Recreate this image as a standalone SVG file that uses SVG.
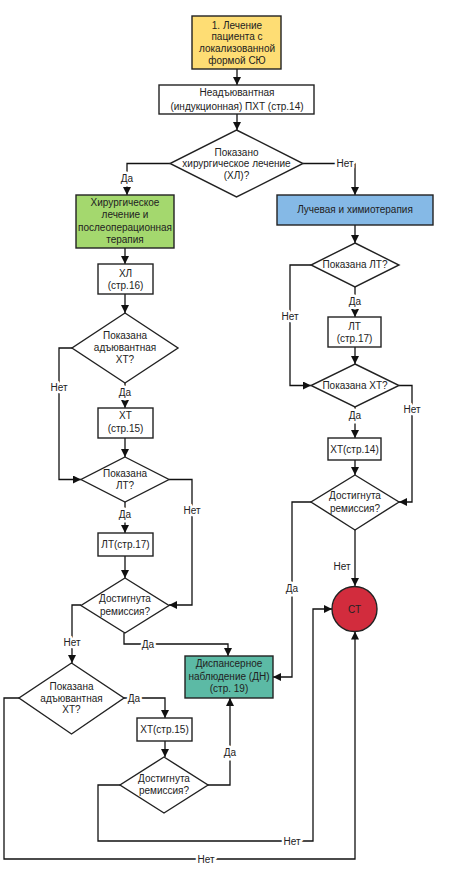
<svg xmlns="http://www.w3.org/2000/svg" width="453" height="880" viewBox="0 0 453 880">
<style>
  text { font-family: "Liberation Sans", Arial, sans-serif; font-size: 10px; fill: #222; text-anchor: middle; }
  .shape { stroke: #222; stroke-width: 1.4; }
  .w { fill: #ffffff; }
  .conn path { fill: none; stroke: #111; stroke-width: 1.3; }
  .lbl { paint-order: stroke; stroke: #ffffff; stroke-width: 5px; stroke-linejoin: round; }
</style>
<defs>
  <marker id="arr" viewBox="0 0 10 10" refX="10" refY="5" markerWidth="8" markerHeight="8" markerUnits="userSpaceOnUse" orient="auto">
    <path d="M0,0 L10,5 L0,10 Z" fill="#111"/>
  </marker>
</defs>
<rect width="453" height="880" fill="#ffffff"/>

<g class="conn">
  <path d="M237,69 V85" marker-end="url(#arr)"/>
  <path d="M237,114 V130" marker-end="url(#arr)"/>
  <path d="M170,163.5 H127 V195" marker-end="url(#arr)"/>
  <path d="M303,163.5 H355 V195" marker-end="url(#arr)"/>
  <path d="M125,248 V264" marker-end="url(#arr)"/>
  <path d="M125,294 V313" marker-end="url(#arr)"/>
  <path d="M125,383 V408" marker-end="url(#arr)"/>
  <path d="M72,348 H59 V479.5 H81" marker-end="url(#arr)"/>
  <path d="M125,438 V457" marker-end="url(#arr)"/>
  <path d="M169,479.5 H192 V605 H169" marker-end="url(#arr)"/>
  <path d="M125,502 V533" marker-end="url(#arr)"/>
  <path d="M125,556 V578" marker-end="url(#arr)"/>
  <path d="M124,633 V644 H228 V656" marker-end="url(#arr)"/>
  <path d="M81,605 H72 V663" marker-end="url(#arr)"/>
  <path d="M124,698 H165 V718" marker-end="url(#arr)"/>
  <path d="M165,741 V757" marker-end="url(#arr)"/>
  <path d="M208,785 H230 V698" marker-end="url(#arr)"/>
  <path d="M120,785 H98 V841 H313 V609 H332" marker-end="url(#arr)"/>
  <path d="M19,698 H4 V859 H355 V631.5" marker-end="url(#arr)"/>
  <path d="M355,225 V243" marker-end="url(#arr)"/>
  <path d="M355,287 V317" marker-end="url(#arr)"/>
  <path d="M355,347 V364" marker-end="url(#arr)"/>
  <path d="M311,265 H290 V385.5 H311" marker-end="url(#arr)"/>
  <path d="M355,407 V438" marker-end="url(#arr)"/>
  <path d="M355,460 V475" marker-end="url(#arr)"/>
  <path d="M399,385.5 H412 V502 H399" marker-end="url(#arr)"/>
  <path d="M311,502 H292 V677 H273" marker-end="url(#arr)"/>
  <path d="M355,530 V586" marker-end="url(#arr)"/>
  <g id="labels">
    <text class="lbl" x="127" y="181.5">Да</text>
    <text class="lbl" x="345" y="167">Нет</text>
    <text class="lbl" x="59" y="390.5">Нет</text>
    <text class="lbl" x="125" y="395.5">Да</text>
    <text class="lbl" x="192" y="513.5">Нет</text>
    <text class="lbl" x="125" y="517.5">Да</text>
    <text class="lbl" x="148" y="647.5">Да</text>
    <text class="lbl" x="72" y="645.5">Нет</text>
    <text class="lbl" x="134" y="701.5">Да</text>
    <text class="lbl" x="230" y="755.5">Да</text>
    <text class="lbl" x="292" y="844.5">Нет</text>
    <text class="lbl" x="206" y="862.5">Нет</text>
    <text class="lbl" x="355" y="304.5">Да</text>
    <text class="lbl" x="290" y="319.5">Нет</text>
    <text class="lbl" x="412" y="412.5">Нет</text>
    <text class="lbl" x="355" y="418.5">Да</text>
    <text class="lbl" x="292" y="591.5">Да</text>
    <text x="342" y="569.5">Нет</text>
  </g>
</g>

<g id="n1">
  <rect class="shape" x="192" y="16" width="89" height="53" fill="#FEDD74"/>
  <text x="237" y="28.5">1. Лечение</text>
  <text x="237" y="40.2">пациента с</text>
  <text x="237" y="51.9">локализованной</text>
  <text x="237" y="63.6">формой СЮ</text>
</g>
<g id="n2">
  <rect class="shape w" x="159" y="85" width="155" height="29"/>
  <text x="237" y="96">Неадъювантная</text>
  <text x="237" y="109.5">(индукционная) ПХТ (стр.14)</text>
</g>
<g id="d1">
  <polygon class="shape w" points="236.5,130 303,163.5 236.5,197 170,163.5"/>
  <text x="236.5" y="155.5">Показано</text>
  <text x="236.5" y="167">хирургическое лечение</text>
  <text x="236.5" y="178.5">(ХЛ)?</text>
</g>
<g id="n_green">
  <rect class="shape" x="76" y="195" width="98" height="53" fill="#A4D86E"/>
  <text x="125" y="206">Хирургическое</text>
  <text x="125" y="218">лечение и</text>
  <text x="125" y="230.5">послеоперационная</text>
  <text x="125" y="242.5">терапия</text>
</g>
<g id="n_blue">
  <rect class="shape" x="277" y="195" width="156" height="30" fill="#85B9E6"/>
  <text x="355" y="213">Лучевая и химиотерапия</text>
</g>
<g id="n_hl">
  <rect class="shape w" x="98" y="264" width="55" height="30"/>
  <text x="125.5" y="277">ХЛ</text>
  <text x="125.5" y="289">(стр.16)</text>
</g>
<g id="d_adj1">
  <polygon class="shape w" points="125,313 178,348 125,383 72,348"/>
  <text x="125" y="338.5">Показана</text>
  <text x="125" y="351">адъювантная</text>
  <text x="125" y="363">ХТ?</text>
</g>
<g id="n_ht1">
  <rect class="shape w" x="98" y="408" width="55" height="30"/>
  <text x="125.5" y="419">ХТ</text>
  <text x="125.5" y="432">(стр.15)</text>
</g>
<g id="d_lt1">
  <polygon class="shape w" points="125,457 169,479.5 125,502 81,479.5"/>
  <text x="125" y="477">Показана</text>
  <text x="125" y="489">ЛТ?</text>
</g>
<g id="n_lt1">
  <rect class="shape w" x="98" y="533" width="55" height="23"/>
  <text x="125.5" y="548">ЛТ(стр.17)</text>
</g>
<g id="d_rem1">
  <polygon class="shape w" points="125,578 169,605.5 125,633 81,605.5"/>
  <text x="125" y="601.5">Достигнута</text>
  <text x="125" y="615">ремиссия?</text>
</g>
<g id="d_adj2">
  <polygon class="shape w" points="71.5,663 124,698 71.5,734 19,698"/>
  <text x="71.5" y="689.5">Показана</text>
  <text x="71.5" y="701.5">адъювантная</text>
  <text x="71.5" y="713">ХТ?</text>
</g>
<g id="n_ht2">
  <rect class="shape w" x="137" y="718" width="55" height="23"/>
  <text x="164.5" y="733">ХТ(стр.15)</text>
</g>
<g id="d_rem2">
  <polygon class="shape w" points="164,757 208,785 164,813 120,785"/>
  <text x="164" y="781.5">Достигнута</text>
  <text x="164" y="794">ремиссия?</text>
</g>
<g id="n_dn">
  <rect class="shape" x="185" y="656" width="88" height="42" fill="#5CBAA5"/>
  <text x="229" y="667">Диспансерное</text>
  <text x="229" y="679.5">наблюдение (ДН)</text>
  <text x="229" y="692">(стр. 19)</text>
</g>
<g id="d_lt2">
  <polygon class="shape w" points="355,243 399,265 355,287 311,265"/>
  <text x="355" y="268">Показана ЛТ?</text>
</g>
<g id="n_lt2">
  <rect class="shape w" x="328" y="317" width="53" height="30"/>
  <text x="354.5" y="330">ЛТ</text>
  <text x="354.5" y="342">(стр.17)</text>
</g>
<g id="d_ht3">
  <polygon class="shape w" points="355,364 399,385.5 355,407 311,385.5"/>
  <text x="355" y="389">Показана ХТ?</text>
</g>
<g id="n_ht3">
  <rect class="shape w" x="328" y="438" width="53" height="22"/>
  <text x="354.5" y="453">ХТ(стр.14)</text>
</g>
<g id="d_rem3">
  <polygon class="shape w" points="355,475 399,502 355,530 311,502"/>
  <text x="355" y="499">Достигнута</text>
  <text x="355" y="512">ремиссия?</text>
</g>
<g id="n_st">
  <circle class="shape" cx="354.5" cy="609" r="22.5" fill="#D22C3D"/>
  <text x="354.5" y="613">СТ</text>
</g>
</svg>
